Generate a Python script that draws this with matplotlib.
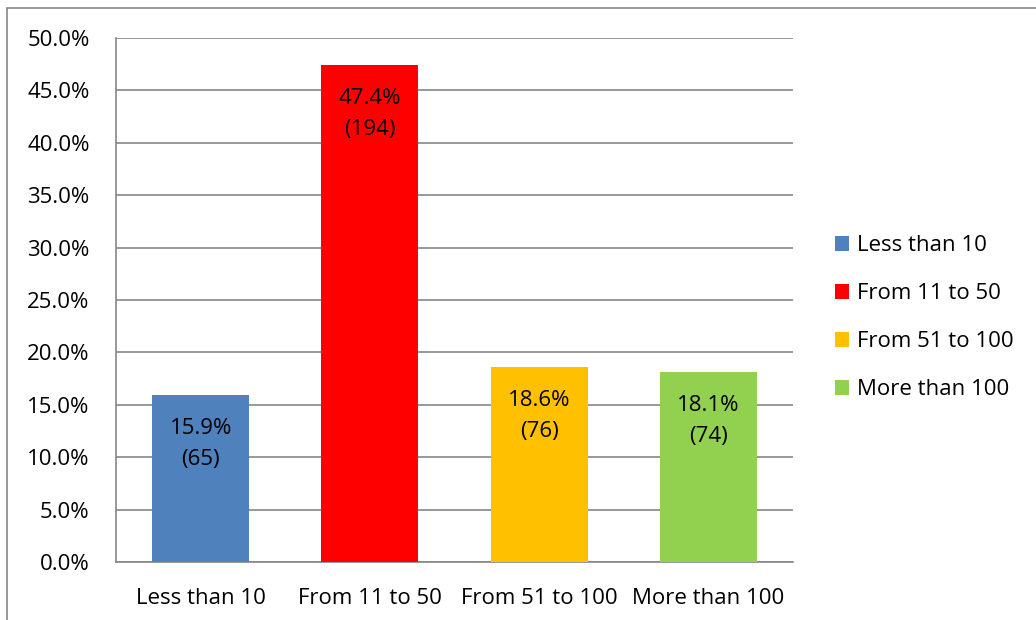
import matplotlib.pyplot as plt
from matplotlib.patches import Rectangle
from matplotlib.ticker import FuncFormatter

categories = ['Less than 10', 'From 11 to 50', 'From 51 to 100', 'More than 100']
percents = [15.9, 47.4, 18.6, 18.1]
counts = [65, 194, 76, 74]
colors = ['#4F81BD', '#FF0000', '#FFC000', '#92D050']

plt.rcParams['font.family'] = ['Open Sans', 'DejaVu Sans']
FS = 16

fig = plt.figure(figsize=(10.36, 6.2), dpi=100)
ax = fig.add_axes([116 / 1036, 1 - 562 / 620, (793 - 116) / 1036, (562 - 38) / 620])

# outer chart border (Excel style)
fig.patches.append(Rectangle((7 / 1036, -0.1), 1.2, 1 - 8 / 620 + 0.1,
                             transform=fig.transFigure, fill=False,
                             edgecolor='#868686', linewidth=1.2))

x = range(len(categories))
bars = ax.bar(x, percents, width=0.573, color=colors, label=categories, zorder=3)

for b, p, c in zip(bars, percents, counts):
    ax.text(b.get_x() + b.get_width() / 2, p - 2.2, '%.1f%%\n(%d)' % (p, c),
            ha='center', va='top', fontsize=FS, linespacing=1.6, zorder=4)

ax.set_xlim(-0.5, 3.5)
ax.set_ylim(0, 50)
ax.set_yticks([i * 5 for i in range(11)])
ax.yaxis.set_major_formatter(FuncFormatter(lambda v, _: '%.1f%%' % v))
ax.set_xticks(list(x))
ax.set_xticklabels(categories)
ax.tick_params(axis='both', length=0, labelsize=FS, colors='black')
ax.tick_params(axis='y', pad=19)
ax.tick_params(axis='x', pad=19)
ax.grid(axis='y', color='#868686', linewidth=1.2, zorder=0)
for s in ['top', 'right']:
    ax.spines[s].set_visible(False)
for s in ['left', 'bottom']:
    ax.spines[s].set_color('#868686')
    ax.spines[s].set_linewidth(1.2)

ax.legend(loc='center left', bbox_to_anchor=(1.032, 0.466), frameon=False,
          fontsize=FS, handlelength=0.65, handleheight=0.65,
          handletextpad=0.35, labelspacing=1.22)

fig.savefig('out.png', dpi=100)
